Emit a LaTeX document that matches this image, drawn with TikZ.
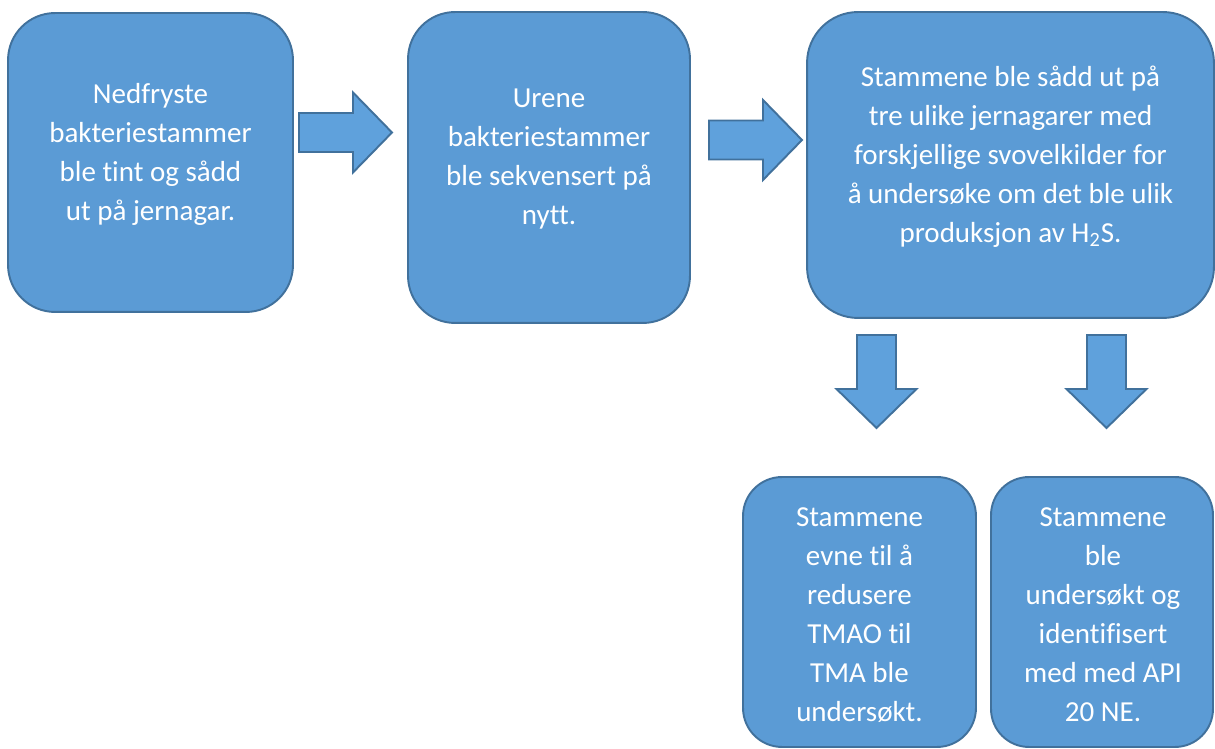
\documentclass[tikz,border=0pt]{standalone}
\usepackage{fontspec}
\setmainfont{Carlito}[Ligatures=NoCommon]
\usetikzlibrary{positioning}
\definecolor{box_fill}{HTML}{5B9BD5}
\definecolor{box_line}{HTML}{41719C}
\definecolor{arrow_fill}{HTML}{5FA1DC}
\tikzset{
        stepnode/.style={align=center,inner sep=0pt},
        % Rounded process boxes
        node_box/.style={stepnode, rectangle, draw=box_line, fill=box_fill, line width=1.1pt},
        % Text inside the boxes
        node_text/.style={stepnode, white, font=\fontsize{16.5}{22.2}\selectfont},
        % Block arrows between the boxes
        block_arrow/.style={draw=box_line, fill=arrow_fill, line width=1.1pt, line join=miter}
}

\begin{document}
\begin{tikzpicture}[x=0.02cm, y=-0.02cm]
            \useasboundingbox (0,0) rectangle (1215,749);
            % Boxes
            \node[node_box, rounded corners=0.94cm, minimum width=5.7cm, minimum height=5.98cm] (b1) at (150.5,162.5) {};
            \node[node_box, rounded corners=0.94cm, minimum width=5.64cm, minimum height=6.22cm] (b2) at (549,167.5) {};
            \node[node_box, rounded corners=1.02cm, minimum width=8.14cm, minimum height=6.12cm] (b3) at (1010.5,165) {};
            \node[node_box, rounded corners=0.78cm, minimum width=4.66cm, minimum height=5.4cm] (b4) at (859.5,612) {};
            \node[node_box, rounded corners=0.76cm, minimum width=4.44cm, minimum height=5.4cm] (b5) at (1102,612) {};
            % Texts
            \node[node_text] (t1) at ([yshift=0.17cm]b1.center) {Nedfryste\\bakteriestammer\\ble tint og sådd\\ut på jernagar.};
            \node[node_text] (t2) at ([yshift=0.17cm]b2.center) {Urene\\bakteriestammer\\ble sekvensert på\\nytt.};
            \node[node_text] (t3) at ([yshift=0.17cm]b3.center) {Stammene ble sådd ut på\\tre ulike jernagarer med\\forskjellige svovelkilder for\\å undersøke om det ble ulik\\produksjon av H\textsubscript{2}S.};
            \node[node_text] (t4) at ([yshift=-0.06cm]b4.center) {Stammene\\evne til å\\redusere\\TMAO til\\TMA ble\\undersøkt.};
            \node[node_text] (t5) at ([xshift=0.02cm, yshift=-0.06cm]b5.center) {Stammene\\ble\\undersøkt og\\identifisert\\med med API\\20 NE.};
            % Block arrows
            \foreach \x/\y/\a in {299/132.5/0, 709/140/0, 876.5/335/-90, 1106.5/335/-90}
                \draw[block_arrow, shift={(\x,\y)}, rotate=\a]
                    (0,-19.5) -- (54,-19.5) -- (54,-40) -- (93,0) -- (54,40) -- (54,19.5) -- (0,19.5) -- cycle;
        \end{tikzpicture}
\end{document}
